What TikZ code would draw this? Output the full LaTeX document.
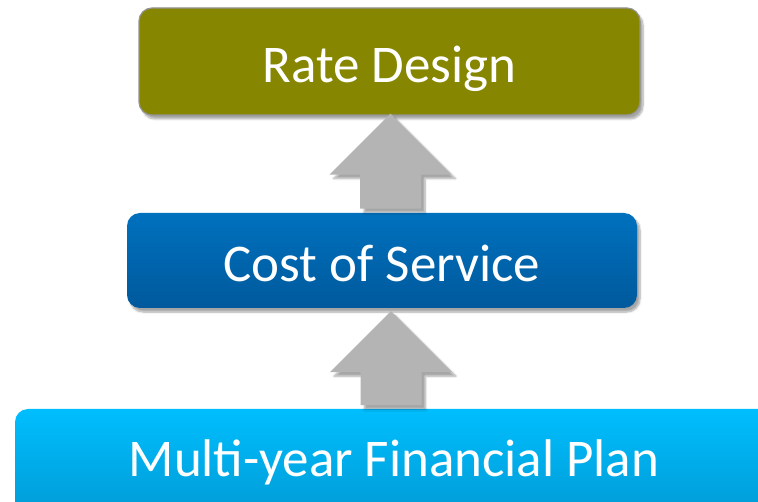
\documentclass[tikz,border=0pt]{standalone}
\usepackage{fontspec}
\setmainfont{Carlito}
\usetikzlibrary{calc,shadows.blur}

\definecolor{olivebox}{HTML}{868600}
\definecolor{bluetop}{HTML}{0071BE}
\definecolor{bluebot}{HTML}{00599C}
\definecolor{cyantop}{HTML}{00BEFE}
\definecolor{cyanbot}{HTML}{009AD4}
\definecolor{arrowgray}{HTML}{B4B4B4}

\tikzset{
  box/.style={rectangle, rounded corners=13pt, inner sep=0pt,
    blur shadow={shadow xshift=3pt, shadow yshift=-4pt, shadow blur steps=8, shadow opacity=35}},
  lbl/.style={anchor=base, text=white, font=\fontsize{53}{60}\selectfont, inner sep=0pt},
  uparrow/.style={fill=arrowgray,
    blur shadow={shadow xshift=4pt, shadow yshift=-4pt, shadow blur steps=8, shadow opacity=35}}
}

\begin{document}
\begin{tikzpicture}[x=1pt,y=-1pt]
\useasboundingbox (0,0) rectangle (758,502);

% stages, bottom to top
\node[box, fill=olivebox, draw=gray!85, line width=1.2pt,
      minimum width=501pt, minimum height=107pt] (rate) at (389.5,61.5) {};
\node[box, top color=bluetop, bottom color=bluebot,
      minimum width=510pt, minimum height=95pt] (cost) at (382,260.5) {};
\node[box, top color=cyantop, bottom color=cyanbot,
      minimum width=758pt, minimum height=110pt] (plan) at (394,464) {};

\node[lbl] (ratetxt) at ($(rate.center)+(0,21.5)$) {Rate Design};
\node[lbl] (costtxt) at ($(cost.center)+(0,21.5)$) {Cost of Service};
\node[lbl] (plantxt) at ($(plan.center)+(0,13)$) {Multi-year Financial Plan};

% block arrows between the stages
\fill[uparrow] ($(rate.south)+(1,-2)$) -- ++(61,61) -- ++(-30.5,0) -- ++(0,34)
  -- ++(-61,0) -- ++(0,-34) -- ++(-30.5,0) -- cycle;
\fill[uparrow] ($(cost.south)+(9,3)$) -- ++(61,61) -- ++(-30.5,0) -- ++(0,33)
  -- ++(-61,0) -- ++(0,-33) -- ++(-30.5,0) -- cycle;
\end{tikzpicture}
\end{document}
